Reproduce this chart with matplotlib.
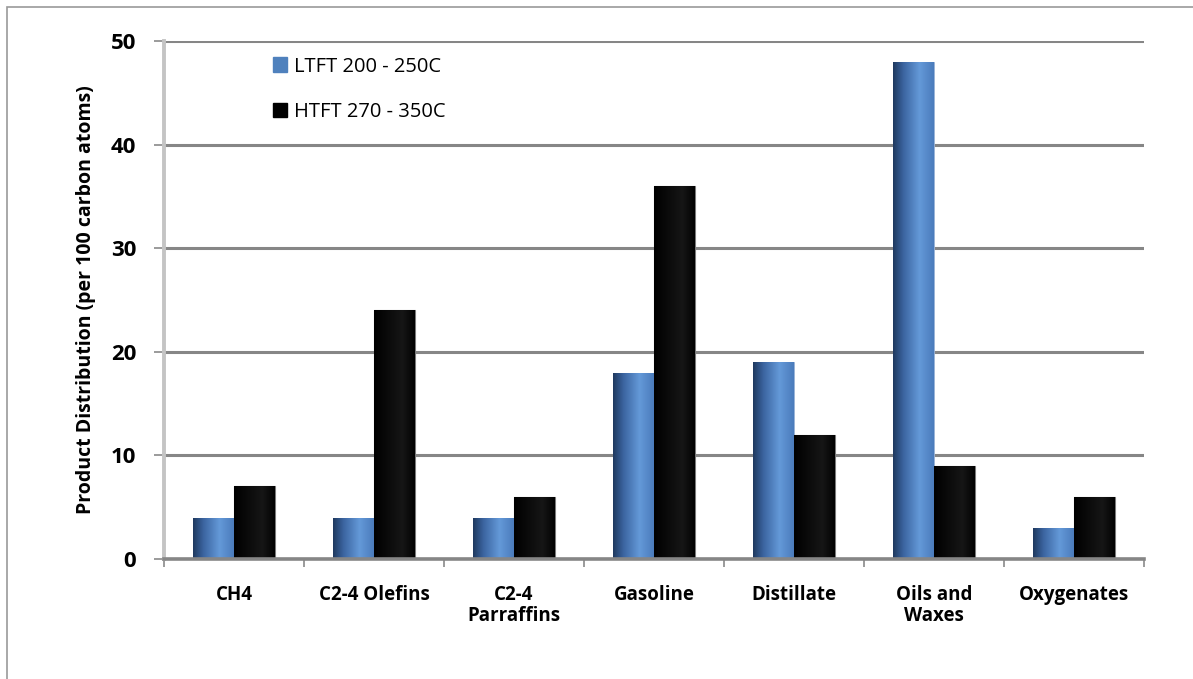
import numpy as np
import matplotlib.pyplot as plt
from matplotlib.colors import LinearSegmentedColormap
from matplotlib.patches import Rectangle

categories = ['CH4', 'C2-4 Olefins', 'C2-4\nParraffins', 'Gasoline',
              'Distillate', 'Oils and\nWaxes', 'Oxygenates']
ltft = [4, 4, 4, 18, 19, 48, 3]
htft = [7, 24, 6, 36, 12, 9, 6]
series_names = ['LTFT 200 - 250C', 'HTFT 270 - 350C']
yticks = [0, 10, 20, 30, 40, 50]

plt.rcParams['font.family'] = ['Open Sans', 'DejaVu Sans']

# cylinder-like shading across each bar
blue_cmap = LinearSegmentedColormap.from_list(
    'blue_cyl', [(0.0, '#1f3a60'), (0.25, '#3b64a0'), (0.65, '#6499d8'), (1.0, '#4b7cbc')])
black_cmap = LinearSegmentedColormap.from_list(
    'black_cyl', [(0.0, '#000000'), (0.7, '#161616'), (1.0, '#020202')])

fig = plt.figure(figsize=(11.93, 6.79), dpi=100)
ax = fig.add_axes([0.1375, 0.1767, 0.8215, 0.7629])

# outer chart frame
fig.patches.append(Rectangle((7 / 1193, -0.1), 1.2, 1 - 7 / 679 + 0.1, transform=fig.transFigure,
                             fill=False, edgecolor='#9a9a9a', linewidth=1.2))

x = np.arange(len(categories))
w = 0.29
bars_l = ax.bar(x - w, ltft, w, align='edge', color='#4f81bd', edgecolor='#9ab4d8',
                linewidth=0.6, zorder=3)
bars_h = ax.bar(x, htft, w, align='edge', color='black', edgecolor='#7a7a7a',
                linewidth=0.8, zorder=3)

grad = np.linspace(0, 1, 64).reshape(1, -1)
for bars, cmap in ((bars_l, blue_cmap), (bars_h, black_cmap)):
    for b in bars:
        x0, y0 = b.get_x(), b.get_y()
        im = ax.imshow(grad, cmap=cmap, aspect='auto', zorder=3.5,
                       extent=[x0, x0 + b.get_width(), y0, y0 + b.get_height()])
        im.set_clip_path(b)

ax.set_xlim(-0.5, len(categories) - 0.5)
ax.set_ylim(0, 50)
ax.set_yticks(yticks)
ax.set_yticklabels([str(v) for v in yticks], fontsize=16, fontweight='bold')
ax.set_xticks(x)
ax.set_xticklabels(categories, fontsize=13.5, fontweight='bold', linespacing=1.05)
ax.tick_params(axis='x', length=0, pad=19)
ax.tick_params(axis='y', length=7, width=1.2, color='#8a8a8a', pad=13)

# small ticks between categories on the x axis
ax.set_xticks(np.arange(-0.5, len(categories)), minor=True)
ax.tick_params(axis='x', which='minor', length=6, width=1.2, color='#8a8a8a')

ax.grid(axis='y', color='#868686', linewidth=2.2, zorder=1)
ax.set_axisbelow(True)
for s in ('top', 'right'):
    ax.spines[s].set_visible(False)
ax.spines['left'].set_color('#c4c4c4')
ax.spines['left'].set_linewidth(2.8)
ax.spines['bottom'].set_color('#868686')
ax.spines['bottom'].set_linewidth(2.6)
ax.spines['bottom'].set_zorder(4)

ax.set_ylabel('Product Distribution (per 100 carbon atoms)', fontsize=14,
              fontweight='bold', labelpad=11)

handles = [Rectangle((0, 0), 1, 1, color='#4f81bd'), Rectangle((0, 0), 1, 1, color='black')]
ax.legend(handles, series_names, loc='upper left', bbox_to_anchor=(0.093, 1.005),
          frameon=False, fontsize=14.5, handlelength=0.7, handleheight=0.7,
          handletextpad=0.35, labelspacing=1.25)

fig.savefig('out.png', dpi=100)
